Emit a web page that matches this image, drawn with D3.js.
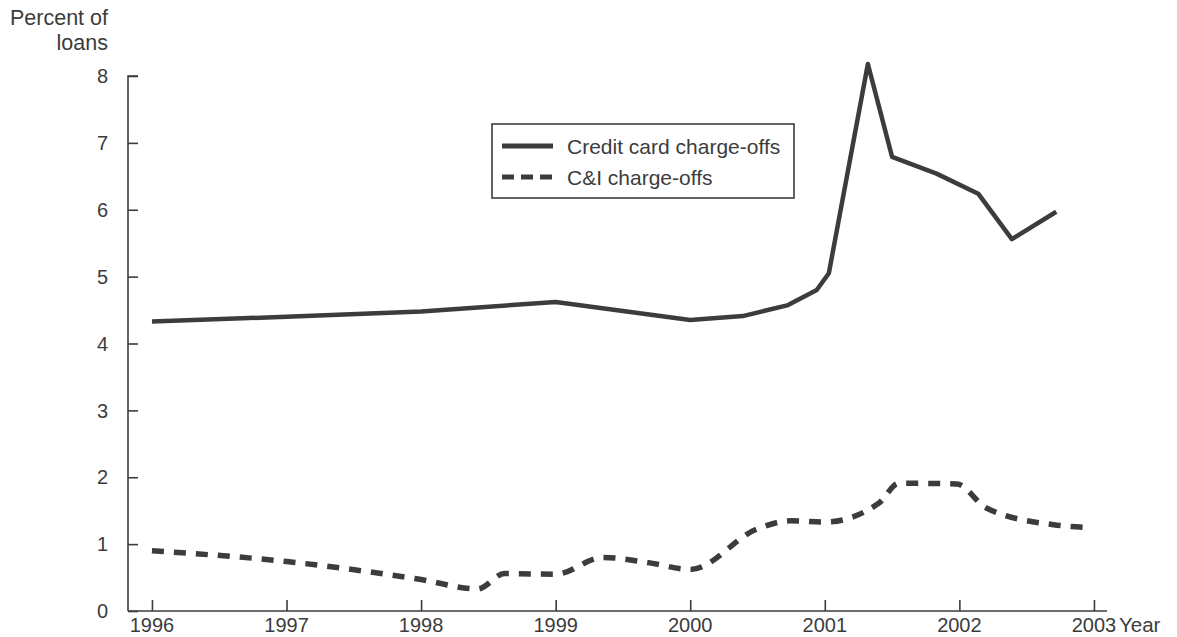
<!DOCTYPE html>
<html>
<head>
<meta charset="utf-8">
<script src="https://cdn.jsdelivr.net/npm/d3@7"></script>
<style>
  html, body { margin: 0; padding: 0; background: #fff; }
  svg { display: block; font-family: "Liberation Sans", Arial, sans-serif; }
</style>
</head>
<body>
<svg id="chart" width="1177" height="637"></svg>
<script>
// ---- data ----
const yearTicks = [1996, 1997, 1998, 1999, 2000, 2001, 2002, 2003];
const yTicks = [0, 1, 2, 3, 4, 5, 6, 7, 8];
const creditYears = [1996.0, 1997.0, 1998.0, 1999.0, 2000.0, 2000.39, 2000.72, 2000.94, 2001.03, 2001.32, 2001.50, 2001.83, 2002.14, 2002.39, 2002.72];
const creditValues = [4.33, 4.40, 4.48, 4.62, 4.35, 4.41, 4.57, 4.80, 5.05, 8.18, 6.79, 6.54, 6.24, 5.56, 5.97];
const ciYears = [1996.0, 1997.0, 1998.0, 1998.42, 1998.62, 1999.0, 1999.35, 1999.7, 2000.0, 2000.5, 2000.75, 2001.0, 2001.4, 2001.55, 2001.98, 2002.2, 2002.7, 2002.95];
const ciValues = [0.90, 0.74, 0.47, 0.33, 0.56, 0.55, 0.80, 0.72, 0.62, 1.23, 1.35, 1.33, 1.61, 1.91, 1.90, 1.54, 1.29, 1.25];
const legendLabels = ["Credit card charge-offs", "C&I charge-offs"];
const yTitle = ["Percent of", "loans"];
const xTitle = "Year";

const ink = "#3c3c3c";
const svg = d3.select("#chart");

const x = d3.scaleLinear().domain([1995.822, 2003.097]).range([128, 1107]);
const y = d3.scaleLinear().domain([0, 8]).range([611, 76]);

// Y axis
const yAxis = d3.axisRight(y).tickValues(yTicks).tickSize(10).tickFormat("");
const gy = svg.append("g").attr("transform", "translate(128,0)").call(yAxis);
gy.select(".domain").attr("d", `M10,${y(8)}H0V${y(0)}`).attr("stroke", ink).attr("stroke-width", 1.6);
gy.selectAll(".tick line").attr("stroke", ink).attr("stroke-width", 1.6);

svg.append("g").selectAll("text").data(yTicks).join("text")
  .attr("x", 108).attr("y", d => y(d)).attr("dy", "0.36em")
  .attr("text-anchor", "end").attr("font-size", 20).attr("fill", ink)
  .text(d => d);

// X axis
const xAxis = d3.axisTop(x).tickValues(yearTicks).tickSize(11).tickFormat("");
const gx = svg.append("g").attr("transform", "translate(0,611)").call(xAxis);
gx.select(".domain").attr("d", `M128,0H1107`).attr("stroke", ink).attr("stroke-width", 1.6);
gx.selectAll(".tick line").attr("stroke", ink).attr("stroke-width", 1.6);

svg.append("g").selectAll("text").data(yearTicks).join("text")
  .attr("x", d => x(d)).attr("y", 632)
  .attr("text-anchor", "middle").attr("font-size", 20).attr("fill", ink)
  .text(d => d);
svg.append("text").attr("x", 1119).attr("y", 632).attr("font-size", 20.5).attr("fill", ink).text(xTitle);

// Y title
svg.append("text").attr("x", 108).attr("y", 25).attr("text-anchor", "end").attr("font-size", 21.5).attr("fill", ink).text(yTitle[0]);
svg.append("text").attr("x", 108).attr("y", 50).attr("text-anchor", "end").attr("font-size", 21.5).attr("fill", ink).text(yTitle[1]);

// Lines
const credit = creditYears.map((d, i) => [d, creditValues[i]]);
const ci = ciYears.map((d, i) => [d, ciValues[i]]);

svg.append("path").datum(credit)
  .attr("fill", "none").attr("stroke", ink).attr("stroke-width", 4.5).attr("stroke-linejoin", "round")
  .attr("d", d3.line().x(d => x(d[0])).y(d => y(d[1])));

svg.append("path").datum(ci)
  .attr("fill", "none").attr("stroke", ink).attr("stroke-width", 5.5).attr("stroke-dasharray", "12,10")
  .attr("d", d3.line().curve(d3.curveMonotoneX).x(d => x(d[0])).y(d => y(d[1])));

// Legend
const lg = svg.append("g");
lg.append("rect").attr("x", 492).attr("y", 124).attr("width", 302).attr("height", 74)
  .attr("fill", "#fff").attr("stroke", ink).attr("stroke-width", 1.6);
lg.append("line").attr("x1", 502).attr("x2", 553).attr("y1", 146).attr("y2", 146)
  .attr("stroke", ink).attr("stroke-width", 5);
lg.append("line").attr("x1", 502).attr("x2", 553).attr("y1", 177).attr("y2", 177)
  .attr("stroke", ink).attr("stroke-width", 5).attr("stroke-dasharray", "12,7");
lg.selectAll("text.lab").data(legendLabels).join("text").attr("class", "lab")
  .attr("x", 567).attr("y", (d, i) => 146 + i * 31).attr("dy", "0.36em")
  .attr("font-size", 21).attr("fill", ink).text(d => d);
</script>
</body>
</html>
